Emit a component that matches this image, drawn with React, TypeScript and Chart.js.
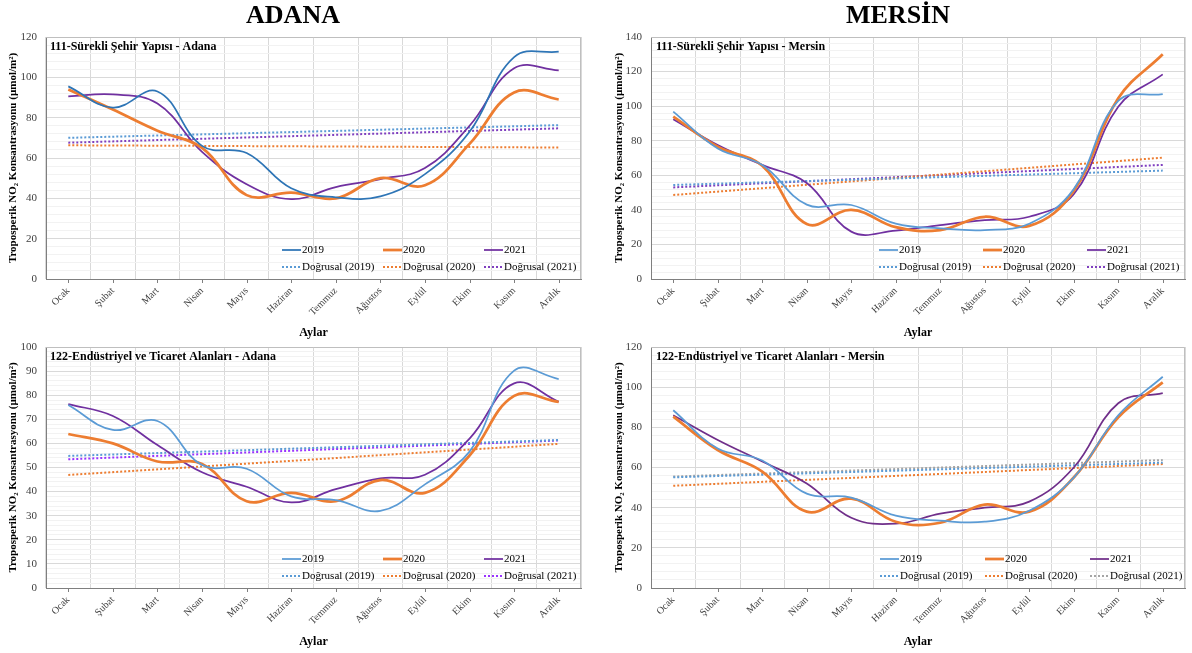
import React, { useEffect, useRef } from 'react';
import { Chart, registerables } from 'chart.js';
Chart.register(...registerables);

const SERIF = '"Liberation Serif", "Times New Roman", Times, serif';

const months = ['Ocak', 'Şubat', 'Mart', 'Nisan', 'Mayıs', 'Haziran', 'Temmuz', 'Ağustos', 'Eylül', 'Ekim', 'Kasım', 'Aralık'];
const years = ['2019', '2020', '2021'];

// 111-Sürekli Şehir Yapısı - Adana
const adana111Y2019 = [95.5, 85, 93, 66, 62.5, 45, 40.5, 41, 52, 73, 110, 112.7];
const adana111Y2020 = [94, 84, 73.5, 65, 41.6, 42.8, 40, 50, 46.5, 67, 92.5, 89];
const adana111Y2021 = [90.5, 91.5, 87, 63, 47, 39.6, 45.6, 49.5, 55, 76, 104.5, 103.5];
const adana111TrendStart = [70, 66.3, 67.6];
const adana111TrendEnd = [76.3, 65.2, 74.7];

// 111-Sürekli Şehir Yapısı - Mersin
const mersin111Y2019 = [96.8, 75.5, 66, 43, 42.8, 32, 29.3, 28.3, 32, 52, 103, 107];
const mersin111Y2020 = [93.9, 76.5, 65.5, 31.8, 40, 30, 28.3, 36, 30.7, 51, 104.5, 130];
const mersin111Y2021 = [92.4, 77.5, 66, 55.5, 27.4, 28, 31.2, 34, 36, 49, 99.7, 118.4];
const mersin111TrendStart = [54.4, 48.6, 53];
const mersin111TrendEnd = [62.7, 70.2, 66];

// 122-Endüstriyel ve Ticaret Alanları - Adana
const adana122Y2019 = [75.9, 65.6, 69.3, 51, 49.5, 38, 36.5, 32, 43, 56.6, 90.2, 86.7];
const adana122Y2020 = [63.9, 60, 52.5, 51.5, 36, 39.5, 36, 44.8, 39.5, 55, 79.7, 77.2];
const adana122Y2021 = [76.3, 71.4, 59.3, 48, 42, 35.5, 41, 45.5, 47, 62, 84.9, 77.3];
const adana122TrendStart = [54.8, 46.9, 53.4];
const adana122TrendEnd = [61.4, 59.8, 61.2];

// 122-Endüstriyel ve Ticaret Alanları - Mersin
const mersin122Y2019 = [88.5, 69.5, 63.5, 47, 45, 36, 33.5, 33, 38.5, 55, 86, 105.2];
const mersin122Y2020 = [85.3, 68.7, 58, 38, 44.5, 33, 32.5, 41.5, 38, 55, 85, 102.4];
const mersin122Y2021 = [86, 73.7, 63, 52, 35, 32, 37, 40, 43, 60, 92, 97];
const mersin122TrendStart = [55.1, 50.9, 55.5];
const mersin122TrendEnd = [62.4, 61.7, 63.7];

type Panel = {
  id: string;
  title: string;
  series: number[][];
  trendStart: number[];
  trendEnd: number[];
  yMax: number;
  yMajor: number;
  yMinor: number;
  box: { x: number; y: number; w: number; h: number };
  pad: { top: number; right: number; bottom: number; left: number };
  yWidth: number;
  xHeight: number;
  yTitlePad: number;
  xTitlePad: number;
  lineColors: string[];
  trendColors: string[];
  titlePos: [number, number];
  legendCols: number[];
  legendRows: number[];
};

const panels: Panel[] = [
  {
    id: 'a111',
    title: '111-Sürekli Şehir Yapısı - Adana',
    series: [adana111Y2019, adana111Y2020, adana111Y2021],
    trendStart: adana111TrendStart,
    trendEnd: adana111TrendEnd,
    yMax: 120, yMajor: 20, yMinor: 4,
    box: { x: 0, y: 0, w: 596, h: 345 },
    pad: { top: 37, right: 15, bottom: 0, left: 0 },
    yWidth: 46, xHeight: 66, yTitlePad: 7, xTitlePad: 5,
    lineColors: ['#2E75B6', '#ED7D31', '#7030A0'],
    trendColors: ['#5B9BD5', '#ED7D31', '#7F3FBF'],
    titlePos: [50, 47],
    legendCols: [282, 383, 484],
    legendRows: [250, 267],
  },
  {
    id: 'm111',
    title: '111-Sürekli Şehir Yapısı - Mersin',
    series: [mersin111Y2019, mersin111Y2020, mersin111Y2021],
    trendStart: mersin111TrendStart,
    trendEnd: mersin111TrendEnd,
    yMax: 140, yMajor: 20, yMinor: 4,
    box: { x: 596, y: 0, w: 596, h: 345 },
    pad: { top: 37, right: 7, bottom: 0, left: 0 },
    yWidth: 55, xHeight: 66, yTitlePad: 17, xTitlePad: 5,
    lineColors: ['#5B9BD5', '#ED7D31', '#7030A0'],
    trendColors: ['#5B9BD5', '#ED7D31', '#7F3FBF'],
    titlePos: [60, 47],
    legendCols: [283, 387, 491],
    legendRows: [250, 267],
  },
  {
    id: 'a122',
    title: '122-Endüstriyel ve Ticaret Alanları - Adana',
    series: [adana122Y2019, adana122Y2020, adana122Y2021],
    trendStart: adana122TrendStart,
    trendEnd: adana122TrendEnd,
    yMax: 100, yMajor: 10, yMinor: 2,
    box: { x: 0, y: 325, w: 596, h: 328 },
    pad: { top: 22, right: 15, bottom: 0, left: 0 },
    yWidth: 46, xHeight: 65, yTitlePad: 7, xTitlePad: 4,
    lineColors: ['#5B9BD5', '#ED7D31', '#7030A0'],
    trendColors: ['#5B9BD5', '#ED7D31', '#9933FF'],
    titlePos: [50, 32],
    legendCols: [282, 383, 484],
    legendRows: [234, 251],
  },
  {
    id: 'm122',
    title: '122-Endüstriyel ve Ticaret Alanları - Mersin',
    series: [mersin122Y2019, mersin122Y2020, mersin122Y2021],
    trendStart: mersin122TrendStart,
    trendEnd: mersin122TrendEnd,
    yMax: 120, yMajor: 20, yMinor: 4,
    box: { x: 596, y: 325, w: 596, h: 328 },
    pad: { top: 22, right: 7, bottom: 0, left: 0 },
    yWidth: 55, xHeight: 65, yTitlePad: 17, xTitlePad: 4,
    lineColors: ['#5B9BD5', '#ED7D31', '#702F8A'],
    trendColors: ['#5B9BD5', '#ED7D31', '#A5A5A5'],
    titlePos: [60, 32],
    legendCols: [284, 389, 494],
    legendRows: [234, 251],
  },
];

const LINE_WIDTHS = [1.75, 2.75, 1.75];

function makeDecor(p: Panel) {
  return {
    id: 'decor_' + p.id,
    afterDraw(chart: any) {
      const { ctx, chartArea: a, scales } = chart;
      ctx.save();
      // top / right frame
      ctx.strokeStyle = '#BFBFBF';
      ctx.lineWidth = 1;
      ctx.beginPath();
      ctx.moveTo(a.left, a.top + 0.5);
      ctx.lineTo(a.right - 0.5, a.top + 0.5);
      ctx.lineTo(a.right - 0.5, a.bottom);
      ctx.stroke();
      // tick marks at category centres
      ctx.strokeStyle = '#7F7F7F';
      for (let i = 0; i < months.length; i++) {
        const x = Math.round(scales.x.getPixelForValue(i)) + 0.5;
        ctx.beginPath();
        ctx.moveTo(x, a.bottom);
        ctx.lineTo(x, a.bottom + 4);
        ctx.stroke();
      }
      // panel title
      ctx.fillStyle = '#000';
      ctx.font = `bold 12px ${SERIF}`;
      ctx.textBaseline = 'middle';
      ctx.textAlign = 'left';
      ctx.fillText(p.title, p.titlePos[0], p.titlePos[1]);
      // legend
      ctx.font = `11px ${SERIF}`;
      for (let r = 0; r < 2; r++) {
        for (let c = 0; c < 3; c++) {
          const x = p.legendCols[c];
          const y = p.legendRows[r];
          ctx.beginPath();
          if (r === 0) {
            ctx.setLineDash([]);
            ctx.strokeStyle = p.lineColors[c];
            ctx.lineWidth = LINE_WIDTHS[c];
          } else {
            ctx.setLineDash([2, 2]);
            ctx.strokeStyle = p.trendColors[c];
            ctx.lineWidth = 2;
          }
          ctx.moveTo(x, y);
          ctx.lineTo(x + 19, y);
          ctx.stroke();
          ctx.setLineDash([]);
          ctx.fillStyle = '#000';
          ctx.fillText(r === 0 ? years[c] : `Doğrusal (${years[c]})`, x + 20, y + 0.5);
        }
      }
      ctx.restore();
    },
  };
}

function buildConfig(p: Panel): any {
  const datasets: any[] = [];
  p.series.forEach((vals, i) => {
    datasets.push({
      label: years[i],
      data: vals,
      borderColor: p.lineColors[i],
      backgroundColor: p.lineColors[i],
      borderWidth: LINE_WIDTHS[i],
      tension: 0.4,
      pointRadius: 0,
      fill: false,
    });
  });
  p.trendStart.forEach((s, i) => {
    const data: (number | null)[] = months.map(() => null);
    data[0] = s;
    data[months.length - 1] = p.trendEnd[i];
    datasets.push({
      label: `Doğrusal (${years[i]})`,
      data,
      spanGaps: true,
      borderColor: p.trendColors[i],
      backgroundColor: p.trendColors[i],
      borderWidth: 2,
      borderDash: [2, 2],
      tension: 0,
      pointRadius: 0,
      fill: false,
    });
  });
  return {
    type: 'line',
    data: { labels: months, datasets },
    plugins: [makeDecor(p)],
    options: {
      animation: false,
      responsive: false,
      maintainAspectRatio: false,
      events: [],
      layout: { padding: p.pad },
      plugins: { legend: { display: false }, tooltip: { enabled: false }, title: { display: false } },
      scales: {
        x: {
          type: 'category',
          offset: true,
          afterFit: (s: any) => { s.height = p.xHeight; },
          grid: { offset: true, color: '#D9D9D9', drawTicks: false, lineWidth: 1 },
          border: { display: true, color: '#7F7F7F', width: 1 },
          ticks: {
            autoSkip: false,
            maxRotation: 45,
            minRotation: 45,
            padding: 6,
            color: '#404040',
            font: { family: SERIF, size: 10 },
          },
          title: {
            display: true,
            text: 'Aylar',
            color: '#000',
            font: { family: SERIF, size: 12, weight: 'bold' },
            padding: { top: 0, bottom: p.xTitlePad },
          },
        },
        y: {
          type: 'linear',
          min: 0,
          max: p.yMax,
          afterFit: (s: any) => { s.width = p.yWidth; },
          grid: {
            drawTicks: false,
            color: (c: any) => (c.tick && Math.round(c.tick.value) % p.yMajor === 0 ? '#D9D9D9' : '#F2F2F2'),
            lineWidth: 1,
          },
          border: { display: true, color: '#7F7F7F', width: 1 },
          ticks: {
            stepSize: p.yMinor,
            autoSkip: false,
            maxTicksLimit: 200,
            padding: 9,
            color: '#404040',
            font: { family: SERIF, size: 11 },
            callback: (v: any) => (Math.round(v) % p.yMajor === 0 ? String(v) : ''),
          },
          title: {
            display: true,
            text: 'Troposperik NO₂ Konsantrasyonu (µmol/m²)',
            color: '#000',
            font: { family: SERIF, size: 11, weight: 'bold' },
            padding: { top: p.yTitlePad, bottom: 0 },
          },
        },
      },
    },
  };
}

function PanelChart({ panel }: { panel: Panel }) {
  const ref = useRef<HTMLCanvasElement>(null);
  useEffect(() => {
    if (!ref.current) return;
    const chart = new Chart(ref.current, buildConfig(panel));
    return () => chart.destroy();
  }, [panel]);
  const b = panel.box;
  return (
    <canvas
      ref={ref}
      width={b.w}
      height={b.h}
      style={{ position: 'absolute', left: b.x, top: b.y, width: b.w, height: b.h }}
    />
  );
}

const bigTitle: React.CSSProperties = {
  position: 'absolute',
  top: 0,
  fontFamily: SERIF,
  fontWeight: 'bold',
  fontSize: 26,
  lineHeight: '30px',
  color: '#000',
  textAlign: 'center',
  width: 300,
};

export default function App() {
  return (
    <div style={{ position: 'absolute', left: 0, top: 0, width: 1192, height: 653, background: '#fff', overflow: 'hidden' }}>
      {panels.map((p) => (
        <PanelChart key={p.id} panel={p} />
      ))}
      <div style={{ ...bigTitle, left: 293 - 150 }}>ADANA</div>
      <div style={{ ...bigTitle, left: 898 - 150 }}>MERSİN</div>
    </div>
  );
}
